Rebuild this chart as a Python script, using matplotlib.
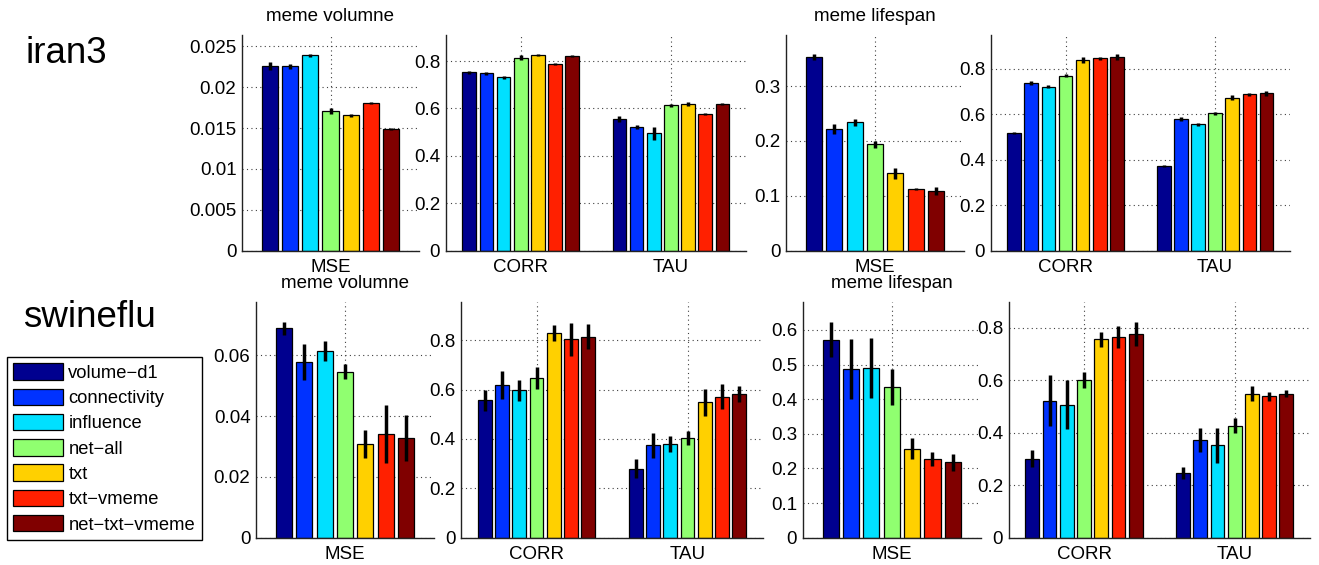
import numpy as np
import matplotlib
matplotlib.use("Agg")
import matplotlib.pyplot as plt
from matplotlib.patches import Patch

plt.rcParams["font.family"] = ["Liberation Sans", "DejaVu Sans"]

W, H = 1319, 565

methods = ["volume\u2212d1", "connectivity", "influence", "net\u2212all", "txt",
           "txt\u2212vmeme", "net\u2212txt\u2212vmeme"]
colors = ["#00008f", "#0032ff", "#00e0ff", "#90ff70", "#ffd000", "#ff2000", "#800000"]

# ---- iran3
iran_vol_mse = [0.02263, 0.02259, 0.0239, 0.01712, 0.01658, 0.01806, 0.01487]
iran_vol_mse_err = [0.0005, 0.0003, 0.0002, 0.0004, 0.0002, 0.0001, 0.0001]
iran_vol_corr = [0.752, 0.748, 0.731, 0.815, 0.825, 0.789, 0.821]
iran_vol_corr_err = [0.007, 0.006, 0.006, 0.01, 0.005, 0.004, 0.004]
iran_vol_tau = [0.555, 0.522, 0.495, 0.614, 0.620, 0.575, 0.620]
iran_vol_tau_err = [0.012, 0.008, 0.028, 0.006, 0.008, 0.004, 0.004]

iran_life_mse = [0.3528, 0.221, 0.2338, 0.1937, 0.1409, 0.1117, 0.1087]
iran_life_mse_err = [0.006, 0.009, 0.006, 0.006, 0.010, 0.002, 0.007]
iran_life_corr = [0.516, 0.738, 0.721, 0.769, 0.838, 0.845, 0.851]
iran_life_corr_err = [0.004, 0.010, 0.007, 0.006, 0.013, 0.006, 0.012]
iran_life_tau = [0.372, 0.579, 0.555, 0.604, 0.673, 0.687, 0.692]
iran_life_tau_err = [0.004, 0.007, 0.006, 0.006, 0.012, 0.006, 0.012]

# ---- swineflu
swine_vol_mse = [0.0688, 0.0579, 0.0614, 0.0546, 0.0308, 0.0340, 0.0327]
swine_vol_mse_err = [0.0021, 0.0059, 0.0033, 0.0025, 0.0047, 0.0095, 0.0076]
swine_vol_corr = [0.557, 0.620, 0.597, 0.647, 0.830, 0.805, 0.815]
swine_vol_corr_err = [0.043, 0.057, 0.042, 0.043, 0.031, 0.067, 0.051]
swine_vol_tau = [0.280, 0.374, 0.381, 0.405, 0.549, 0.572, 0.582]
swine_vol_tau_err = [0.039, 0.049, 0.032, 0.029, 0.055, 0.051, 0.032]

swine_life_mse = [0.572, 0.488, 0.490, 0.434, 0.257, 0.227, 0.218]
swine_life_mse_err = [0.050, 0.086, 0.086, 0.052, 0.030, 0.020, 0.024]
swine_life_corr = [0.301, 0.523, 0.508, 0.602, 0.757, 0.766, 0.777]
swine_life_corr_err = [0.032, 0.097, 0.095, 0.030, 0.029, 0.042, 0.045]
swine_life_tau = [0.248, 0.373, 0.353, 0.428, 0.550, 0.540, 0.550]
swine_life_tau_err = [0.023, 0.047, 0.067, 0.029, 0.030, 0.017, 0.014]

FS = 13.5


def ax_px(left, top, right, bottom):
    return [left / W, 1 - bottom / H, (right - left) / W, (bottom - top) / H]


def grouped(ax, groups, vals, errs, ylim, yticks, ylabels, title=None):
    n = len(methods)
    step = 0.8 / n
    xg = np.arange(1, len(groups) + 1)
    for i in range(n):
        x = xg + (i - (n - 1) / 2) * step
        v = [vals[g][i] for g in range(len(groups))]
        e = [errs[g][i] for g in range(len(groups))]
        ax.bar(x, v, width=step * 0.8, color=colors[i], edgecolor="black",
               linewidth=0.9, zorder=2)
        ax.errorbar(x, v, yerr=e, fmt="none", ecolor="black", elinewidth=2.5,
                    capsize=0, zorder=3)
    ax.set_xlim(0.5, len(groups) + 0.5)
    ax.set_ylim(*ylim)
    ax.set_xticks(xg)
    ax.set_xticklabels(groups)
    ax.set_yticks(yticks)
    ax.set_yticklabels(ylabels)
    ax.grid(True, linestyle=(0, (1, 3)), color="#404040", linewidth=0.8)
    ax.set_axisbelow(True)
    for s in ("top", "right"):
        ax.spines[s].set_visible(False)
    for s in ("left", "bottom"):
        ax.spines[s].set_color("#222222")
        ax.spines[s].set_linewidth(1.0)
    ax.tick_params(length=0, labelsize=FS)
    ax.tick_params(axis="y", pad=4)
    ax.tick_params(axis="x", pad=6)
    if title:
        ax.set_title(title, fontsize=FS, pad=10)


fig = plt.figure(figsize=(W / 100, H / 100), dpi=100)

t8 = [0, 0.2, 0.4, 0.6, 0.8]
l8 = ["0", "0.2", "0.4", "0.6", "0.8"]

ax = fig.add_axes(ax_px(242, 35, 419, 250.7))
grouped(ax, ["MSE"], [iran_vol_mse], [iran_vol_mse_err], (0, 0.0264),
        [0, 0.005, 0.01, 0.015, 0.02, 0.025],
        ["0", "0.005", "0.01", "0.015", "0.02", "0.025"], "meme volumne")
ax = fig.add_axes(ax_px(445.7, 35, 746, 250.7))
grouped(ax, ["CORR", "TAU"], [iran_vol_corr, iran_vol_tau],
        [iran_vol_corr_err, iran_vol_tau_err], (0, 0.91), t8, l8)
ax = fig.add_axes(ax_px(786, 35, 964, 250.7))
grouped(ax, ["MSE"], [iran_life_mse], [iran_life_mse_err], (0, 0.393),
        [0, 0.1, 0.2, 0.3], ["0", "0.1", "0.2", "0.3"], "meme lifespan")
ax = fig.add_axes(ax_px(990.7, 35, 1290, 250.7))
grouped(ax, ["CORR", "TAU"], [iran_life_corr, iran_life_tau],
        [iran_life_corr_err, iran_life_tau_err], (0, 0.948), t8, l8)

ax = fig.add_axes(ax_px(256, 302.3, 434, 537.7))
grouped(ax, ["MSE"], [swine_vol_mse], [swine_vol_mse_err], (0, 0.0774),
        [0, 0.02, 0.04, 0.06], ["0", "0.02", "0.04", "0.06"], "meme volumne")
ax = fig.add_axes(ax_px(461, 302.3, 763, 537.7))
grouped(ax, ["CORR", "TAU"], [swine_vol_corr, swine_vol_tau],
        [swine_vol_corr_err, swine_vol_tau_err], (0, 0.954), t8, l8)
ax = fig.add_axes(ax_px(802.7, 302.3, 980.7, 537.7))
grouped(ax, ["MSE"], [swine_life_mse], [swine_life_mse_err], (0, 0.68),
        [0, 0.1, 0.2, 0.3, 0.4, 0.5, 0.6],
        ["0", "0.1", "0.2", "0.3", "0.4", "0.5", "0.6"], "meme lifespan")
ax = fig.add_axes(ax_px(1008.7, 302.3, 1310, 537.7))
grouped(ax, ["CORR", "TAU"], [swine_life_corr, swine_life_tau],
        [swine_life_corr_err, swine_life_tau_err], (0, 0.898), t8, l8)

fig.text(26 / W, 1 - 63 / H, "iran3", fontsize=26.5, va="baseline", ha="left")
fig.text(23 / W, 1 - 327 / H, "swineflu", fontsize=26.5, va="baseline", ha="left")

handles = [Patch(facecolor=c, edgecolor="black", linewidth=0.9) for c in colors]
leg = fig.legend(handles, methods, loc="upper left",
                 bbox_to_anchor=(7 / W, 1 - 357 / H), borderaxespad=0,
                 fontsize=13.2, frameon=True, fancybox=False, framealpha=1,
                 edgecolor="black", handlelength=2.7, handleheight=1.0,
                 handletextpad=0.3, labelspacing=0.37, borderpad=0.35)
leg.get_frame().set_linewidth(1.0)

fig.savefig("out.png", dpi=100)
